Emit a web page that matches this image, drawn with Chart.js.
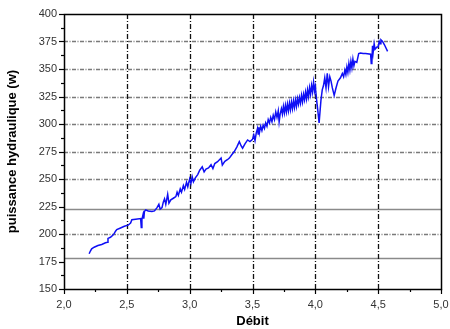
<!DOCTYPE html>
<html>
<head>
<meta charset="utf-8">
<script src="https://cdn.jsdelivr.net/npm/chart.js@4/dist/chart.umd.min.js"></script>
<style>
  html, body { margin: 0; padding: 0; background: #fff; }
  canvas { display: block; }
</style>
</head>
<body>
<canvas id="c" width="450" height="329"></canvas>
<script>
// Débit (abscisse) et puissance hydraulique mesurée (W)
const debit = [
  2.20, 2.21, 2.22, 2.24, 2.27, 2.30, 2.33, 2.345, 2.35, 2.37,
  2.39, 2.40, 2.41, 2.42, 2.45, 2.48, 2.51, 2.53, 2.54, 2.57,
  2.61, 2.615, 2.62, 2.63, 2.635, 2.64, 2.65, 2.67, 2.70, 2.72,
  2.74, 2.755, 2.765, 2.78, 2.79, 2.80, 2.81, 2.825, 2.835, 2.85,
  2.87, 2.89, 2.90, 2.91, 2.925, 2.935, 2.95, 2.96, 2.975, 2.985,
  3.00, 3.01, 3.02, 3.03, 3.045, 3.064, 3.08, 3.10, 3.115, 3.13,
  3.15, 3.17, 3.185, 3.20, 3.222, 3.25, 3.26, 3.28, 3.30, 3.316,
  3.335, 3.355, 3.375, 3.395, 3.41, 3.421, 3.44, 3.461, 3.48, 3.50,
  3.51, 3.52, 3.53, 3.54, 3.545, 3.55, 3.555, 3.565, 3.575, 3.585,
  3.595, 3.605, 3.615, 3.625, 3.635, 3.645, 3.655, 3.665, 3.675, 3.685,
  3.695, 3.705, 3.712, 3.72, 3.73, 3.738, 3.746, 3.754, 3.762, 3.77,
  3.778, 3.786, 3.794, 3.802, 3.81, 3.818, 3.826, 3.834, 3.842, 3.85,
  3.858, 3.866, 3.874, 3.882, 3.89, 3.898, 3.906, 3.914, 3.922, 3.93,
  3.938, 3.946, 3.954, 3.962, 3.97, 3.978, 3.986, 3.994, 4.00, 4.01,
  4.02, 4.03, 4.045, 4.055, 4.065, 4.075, 4.085, 4.095, 4.105, 4.115,
  4.125, 4.135, 4.15, 4.165, 4.18, 4.20, 4.215, 4.225, 4.235, 4.243,
  4.251, 4.259, 4.267, 4.275, 4.283, 4.291, 4.299, 4.307, 4.315, 4.33,
  4.345, 4.36, 4.38, 4.40, 4.44, 4.445, 4.45, 4.455, 4.46, 4.468,
  4.475, 4.49, 4.50, 4.508, 4.515, 4.522, 4.535, 4.55, 4.575
];
const puissance = [
  182, 184.5, 186.5, 188, 189.5, 190.5, 192, 192.5, 196, 197,
  199, 200.5, 202.5, 204, 205.5, 207, 208, 210, 213, 213.5,
  214, 206, 213, 218, 214, 220.5, 222, 221, 220.5, 221,
  224, 227, 222.5, 224, 229, 232, 227, 236, 228, 231,
  232.5, 234, 238, 235, 241, 238, 244, 240.5, 247, 243,
  250, 246, 252, 247.5, 251, 254, 258, 261, 256.5, 259,
  260, 263, 259.5, 264, 265.7, 269, 262.7, 266, 267.5, 269,
  272, 275, 279, 284, 280, 278, 282, 285.5, 284, 286,
  290, 285, 292, 296, 291, 297, 292, 298, 294, 299,
  296, 301, 298, 304, 301, 306, 302, 308, 304, 311,
  306, 312, 302, 309, 314, 309, 316, 310, 317, 311,
  318, 312, 319, 313, 320, 314, 321, 315, 322, 316,
  323, 318, 324, 319, 326, 320, 327, 322, 329, 323,
  331, 325, 333, 327, 335, 329, 338, 330, 334, 322,
  312, 301, 322, 331, 335, 342, 333, 346, 334, 343,
  339, 333, 326, 333, 339, 342, 346, 343, 349, 345,
  352, 347, 355, 349, 357, 351, 359, 353, 357, 356,
  364, 364.5, 364, 364, 363.5, 355, 356, 371, 365, 373,
  368, 370, 370, 375, 373, 376.5, 375, 372, 366
];

// Graduations
const xMajeures = [2.5, 3.0, 3.5, 4.0, 4.5];
const yMajeures = [250, 275, 300, 325, 350, 375];
const yGrisPleins = [222.5, 178];
const yPointilles = [200];

const points = debit.map((d, i) => ({ x: d, y: puissance[i] }));

function fmtVirgule(v) { return v.toFixed(1).replace('.', ','); }

// Grille, cadre et graduations dessinés avec les échelles du graphique
const cadrePlugin = {
  id: 'cadre',
  beforeDatasetsDraw(chart) {
    const { ctx, chartArea: a, scales: { x, y } } = chart;
    ctx.save();
    // lignes horizontales en tirets-points
    ctx.strokeStyle = '#7a7a7a';
    ctx.lineWidth = 1.4;
    ctx.setLineDash([4, 1.5, 1, 1.5]);
    [...yMajeures, ...yPointilles].forEach(v => {
      const py = Math.round(y.getPixelForValue(v)) + 0.5;
      ctx.beginPath(); ctx.moveTo(a.left, py); ctx.lineTo(a.right, py); ctx.stroke();
    });
    // lignes horizontales pleines grises
    ctx.setLineDash([]);
    ctx.strokeStyle = '#8a8a8a';
    ctx.lineWidth = 1.5;
    yGrisPleins.forEach(v => {
      const py = Math.round(y.getPixelForValue(v)) + 0.5;
      ctx.beginPath(); ctx.moveTo(a.left, py); ctx.lineTo(a.right, py); ctx.stroke();
    });
    // lignes verticales noires en tirets-points
    ctx.strokeStyle = '#111';
    ctx.lineWidth = 1.3;
    ctx.setLineDash([5, 2, 1, 2]);
    xMajeures.forEach(v => {
      const px = Math.round(x.getPixelForValue(v)) + 0.5;
      ctx.beginPath(); ctx.moveTo(px, a.top); ctx.lineTo(px, a.bottom); ctx.stroke();
    });
    ctx.restore();
  },
  afterDatasetsDraw(chart) {
    const { ctx, chartArea: a, scales: { x, y } } = chart;
    ctx.save();
    ctx.setLineDash([]);
    ctx.strokeStyle = '#000';
    ctx.lineWidth = 1.5;
    ctx.strokeRect(Math.round(a.left) + 0.5, Math.round(a.top) + 0.5,
                   Math.round(a.right - a.left), Math.round(a.bottom - a.top));
    // graduations de l'axe vertical
    ctx.lineWidth = 1.2;
    y.ticks.forEach(t => {
      const py = Math.round(y.getPixelForValue(t.value)) + 0.5;
      const len = (t.value % 25 === 0) ? 5 : 3;
      ctx.beginPath(); ctx.moveTo(a.left - len, py); ctx.lineTo(a.left, py); ctx.stroke();
    });
    // graduations de l'axe horizontal
    x.ticks.forEach(t => {
      const px = Math.round(x.getPixelForValue(t.value)) + 0.5;
      const maj = Math.abs(t.value * 2 - Math.round(t.value * 2)) < 1e-6;
      const len = maj ? 5 : 3;
      ctx.beginPath(); ctx.moveTo(px, a.bottom); ctx.lineTo(px, a.bottom + len); ctx.stroke();
    });
    ctx.restore();
  }
};

new Chart(document.getElementById('c'), {
  type: 'scatter',
  data: {
    datasets: [{
      data: points,
      showLine: true,
      borderColor: 'rgb(15,15,245)',
      borderWidth: 1.5,
      pointRadius: 0,
      pointHoverRadius: 0,
      tension: 0
    }]
  },
  options: {
    responsive: false,
    animation: false,
    devicePixelRatio: 1,
    layout: { padding: { top: 14, right: 0, bottom: 0, left: 0 } },
    plugins: { legend: { display: false }, tooltip: { enabled: false } },
    scales: {
      x: {
        type: 'linear',
        min: 2, max: 5,
        afterFit(s) { s.height = 40; s.paddingRight = 9; s.paddingLeft = 0; },
        grid: { display: true, drawTicks: false, color: 'transparent', drawOnChartArea: false },
        border: { display: false },
        ticks: {
          stepSize: 0.25,
          autoSkip: false,
          maxRotation: 0,
          padding: 9,
          color: '#333',
          font: { family: 'Liberation Sans, Arial, sans-serif', size: 11 },
          callback(v) {
            return Math.abs(v * 2 - Math.round(v * 2)) < 1e-6 ? fmtVirgule(v) : '';
          }
        },
        title: {
          display: true,
          text: 'Débit',
          color: '#000',
          padding: { top: 0, bottom: 0 },
          font: { family: 'Liberation Sans, Arial, sans-serif', size: 13, weight: 'bold' }
        }
      },
      y: {
        type: 'linear',
        min: 150, max: 400,
        afterFit(s) { s.width = 64; },
        grid: { display: true, drawTicks: false, color: 'transparent', drawOnChartArea: false },
        border: { display: false },
        ticks: {
          stepSize: 12.5,
          autoSkip: false,
          padding: 7,
          color: '#333',
          font: { family: 'Liberation Sans, Arial, sans-serif', size: 11 },
          callback(v) { return v % 25 === 0 ? String(v) : ''; }
        },
        title: {
          display: true,
          text: 'puissance hydraulique (w)',
          color: '#000',
          padding: { top: 5, bottom: 0 },
          font: { family: 'Liberation Sans, Arial, sans-serif', size: 13, weight: 'bold' }
        }
      }
    }
  },
  plugins: [cadrePlugin]
});
</script>
</body>
</html>
